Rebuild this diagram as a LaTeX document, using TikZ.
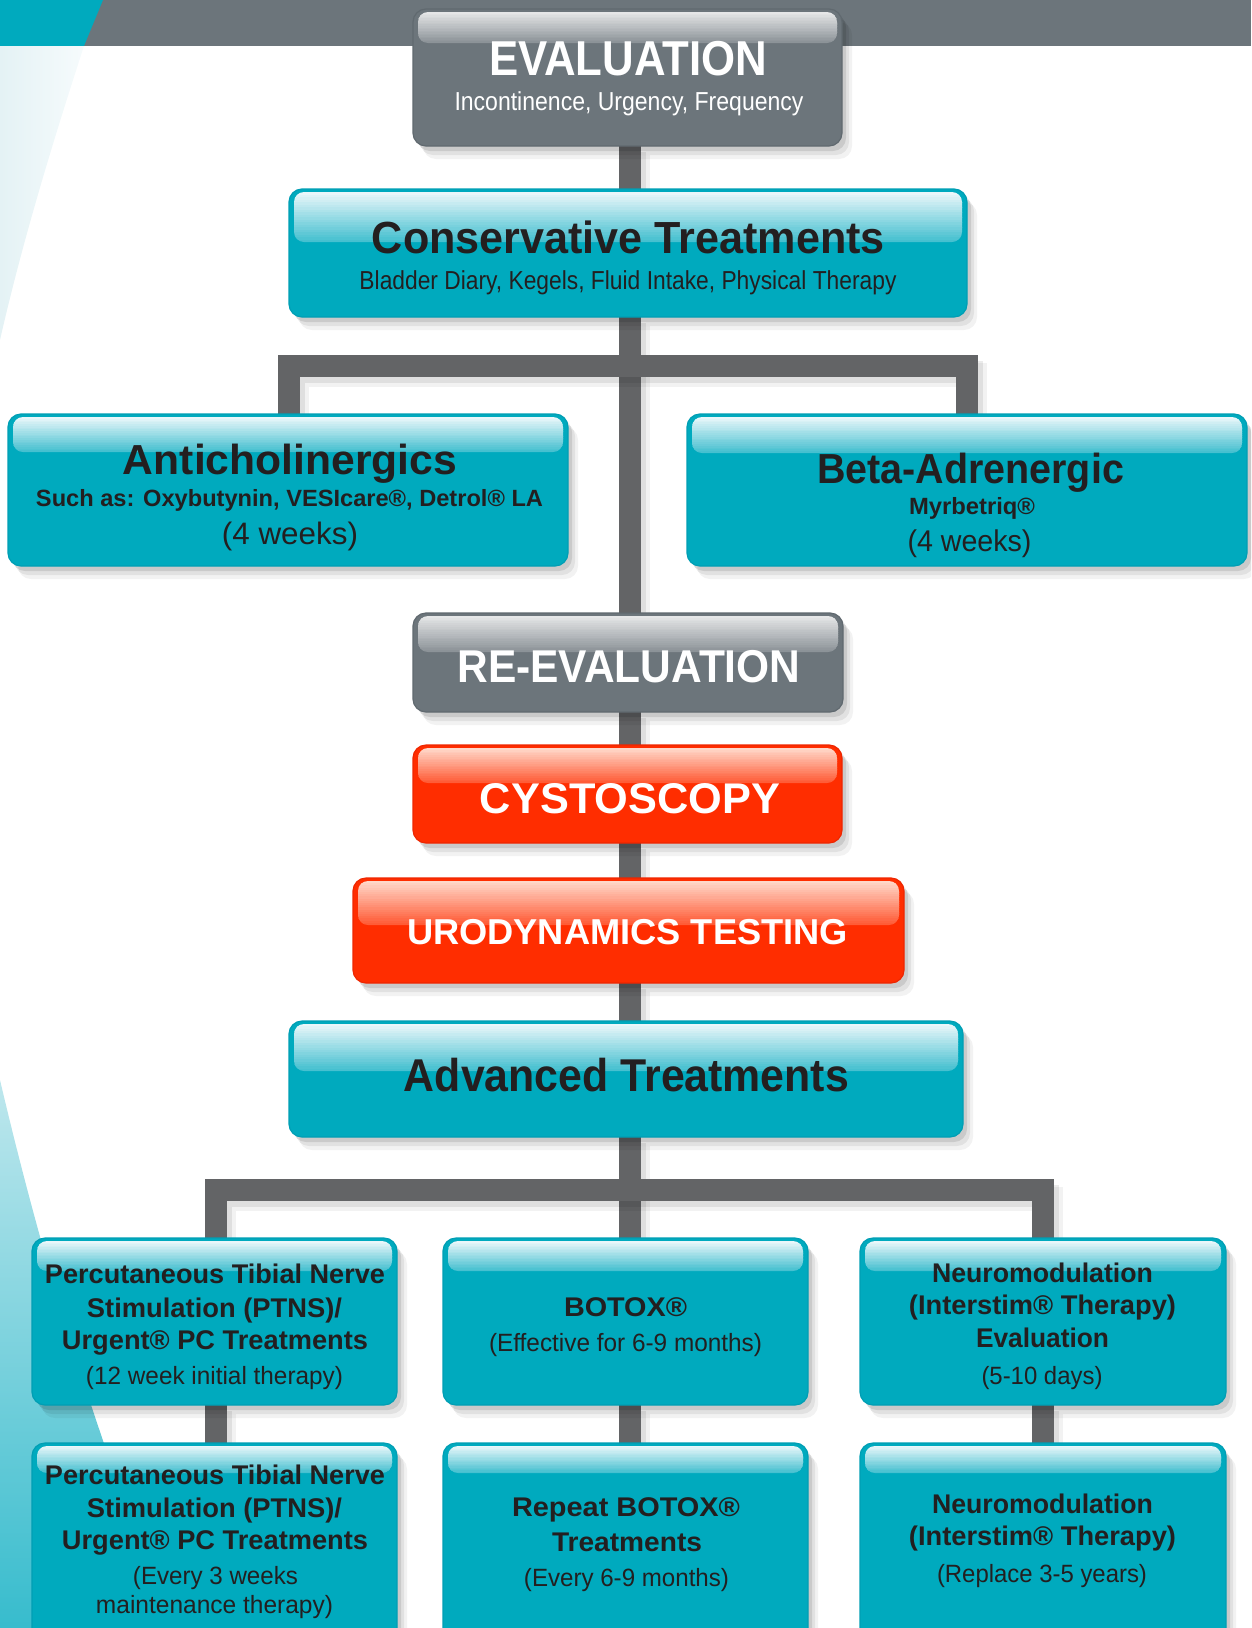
\documentclass[tikz,border=0pt]{standalone}
\usepackage{fontspec}
\setmainfont{Liberation Sans}
\usepackage{graphicx}
\usetikzlibrary{shadows,calc}
\pgfdeclarelayer{bg}
\pgfsetlayers{bg,main}

\definecolor{tealc}{RGB}{0,170,190}
\definecolor{tealb}{RGB}{0,158,180}
\definecolor{grayc}{RGB}{108,117,123}
\definecolor{grayb}{RGB}{96,105,111}
\definecolor{connc}{RGB}{99,100,102}
\definecolor{redc}{RGB}{255,45,0}
\definecolor{redb}{RGB}{238,38,0}
\definecolor{darktext}{RGB}{35,31,32}
\definecolor{tgl1}{RGB}{234,247,250}
\definecolor{tgl2}{RGB}{70,192,208}
\definecolor{ggl1}{RGB}{230,231,232}
\definecolor{ggl2}{RGB}{140,147,152}
\definecolor{rgl1}{RGB}{255,216,202}
\definecolor{rgl2}{RGB}{255,92,55}
\definecolor{palel}{RGB}{228,242,245}
\definecolor{paler}{RGB}{246,251,252}
\definecolor{lowtop}{RGB}{190,231,237}
\definecolor{lowbot}{RGB}{55,188,205}

\tikzset{
  gtop/.store in=\gtop, gbot/.store in=\gbot, glossh/.store in=\glossh,
  boxshadow/.style={
    general shadow={fill=black,opacity=.10,shadow xshift=4pt,shadow yshift=-5pt},
    general shadow={fill=black,opacity=.07,shadow xshift=7pt,shadow yshift=-9pt},
    general shadow={fill=black,opacity=.05,shadow xshift=10pt,shadow yshift=-13pt}},
  box/.style={rectangle, rounded corners=13pt, inner sep=0pt, outer sep=0pt,
    line width=1.2pt, boxshadow,
    path picture={%
      \coordinate (gl) at ([xshift=5pt,yshift=-3pt]path picture bounding box.north west);
      \coordinate (gr) at ([xshift=-5pt,yshift=-3pt]path picture bounding box.north east);
      \pgfmathsetmacro\gh{\glossh-3}%
      \clip[rounded corners=10pt] (gl) rectangle ([yshift=-\gh pt]gr);
      \foreach \i in {0,...,19}{%
        \pgfmathsetmacro\ya{\gh*\i/20}%
        \pgfmathsetmacro\yb{\gh*(\i+1)/20+0.7}%
        \pgfmathtruncatemacro\pc{100-100*\i/19}%
        \colorlet{gcur}{\gtop!\pc!\gbot}%
        \fill[gcur,sharp corners] ([xshift=-2pt,yshift=-\ya pt]gl) rectangle ([xshift=2pt,yshift=-\yb pt]gr);
      }}},
  tealbox/.style={box,fill=tealc,draw=tealb,gtop=tgl1,gbot=tgl2},
  graybox/.style={box,fill=grayc,draw=grayb,gtop=ggl1,gbot=ggl2},
  redbox/.style={box,fill=redc,draw=redb,gtop=rgl1,gbot=rgl2},
  conn/.style={draw=connc, line width=22pt, line join=miter,
    preaction={draw=black,opacity=.08,line width=22pt,line join=miter,
      transform canvas={xshift=5pt,yshift=-6pt}},
    preaction={draw=black,opacity=.05,line width=24pt,line join=miter,
      transform canvas={xshift=8pt,yshift=-9pt}}},
}

% box: name, x1, y1, x2, y2, style, gloss bottom offset
\newcommand\bx[7]{%
  \pgfmathsetmacro\bw{#4-#2}\pgfmathsetmacro\bh{#5-#3}%
  \pgfmathsetmacro\bcx{(#2+#4)/2}\pgfmathsetmacro\bcy{(#3+#5)/2}%
  \node[#6,minimum width=\bw pt,minimum height=\bh pt,glossh=#7] (#1) at (\bcx,\bcy) {};}
% text line: name, x, baseline y, size, width, colour, text
\newcommand\tl[7]{%
  \node[anchor=base,inner sep=0pt,text=#6] (#1) at (#2,#3)
    {\fontsize{#4}{#4}\selectfont\resizebox{#5pt}{\height}{#7}};}

\begin{document}
\begin{tikzpicture}[x=1pt,y=-1pt]
\useasboundingbox (0,0) rectangle (1251,1628);
\begin{pgfonlayer}{bg}
  \fill[grayc] (0,0) rectangle (1251,46);
  \fill[tealc] (0,0) -- (103,0) -- (84,46) -- (0,46) -- cycle;
  \shade[left color=palel,right color=paler] (0,46) -- (84,46)
     .. controls (60,120) and (25,230) .. (0,340) -- cycle;
  \shade[top color=lowtop,bottom color=lowbot] (0,1080)
     .. controls (40,1250) and (90,1420) .. (172,1628) -- (0,1628) -- cycle;
\end{pgfonlayer}
\clip (0,0) rectangle (1251,1628);

% boxes
\bx{eval}{413}{9}{842}{146}{graybox}{34}
\bx{cons}{289}{189}{967}{317}{tealbox}{53}
\bx{anti}{8}{414}{568}{566}{tealbox}{38}
\bx{beta}{687}{414}{1247}{566}{tealbox}{39}
\bx{reeval}{413}{613}{843}{712}{graybox}{39}
\bx{cysto}{413}{745}{842}{843}{redbox}{38}
\bx{uro}{353}{878}{904}{983}{redbox}{47}
\bx{adv}{289}{1021}{963}{1137}{tealbox}{50}
\bx{ptns1}{32}{1238}{397}{1405}{tealbox}{33}
\bx{botox1}{443}{1238}{808}{1405}{tealbox}{33}
\bx{neuro1}{860}{1238}{1226}{1405}{tealbox}{33}
\bx{ptns2}{32}{1443}{397}{1670}{tealbox}{30}
\bx{botox2}{443}{1443}{808}{1670}{tealbox}{30}
\bx{neuro2}{860}{1443}{1226}{1670}{tealbox}{30}

% texts
\tl{evalA}{628}{75}{49}{278}{white}{\bfseries EVALUATION}
\tl{evalB}{629}{110}{26}{349}{white}{Incontinence, Urgency, Frequency}
\tl{consA}{628.5}{253}{45}{513}{darktext}{\bfseries Conservative Treatments}
\tl{consB}{628}{289}{26}{537}{darktext}{Bladder Diary, Kegels, Fluid Intake, Physical Therapy}
\tl{antiA}{290}{474}{42}{334}{darktext}{\bfseries Anticholinergics}
\tl{antiB}{289.5}{506}{23.5}{507}{darktext}{\bfseries Such as: Oxybutynin, VESIcare®, Detrol® LA}
\tl{antiC}{290}{544}{31}{136}{darktext}{(4 weeks)}
\tl{betaA}{970.5}{483}{42}{307}{darktext}{\bfseries Beta-Adrenergic}
\tl{betaB}{972}{514}{23.5}{126}{darktext}{\bfseries Myrbetriq®}
\tl{betaC}{969.5}{551}{30}{124}{darktext}{(4 weeks)}
\tl{reevalA}{629}{682}{46}{343}{white}{\bfseries RE-EVALUATION}
\tl{cystoA}{630}{813}{43}{300}{white}{\bfseries CYSTOSCOPY}
\tl{uroA}{627.5}{944}{36}{441}{white}{\bfseries URODYNAMICS TESTING}
\tl{advA}{626.5}{1091}{46}{445}{darktext}{\bfseries Advanced Treatments}

\tl{ptnsA}{215}{1283}{27}{340}{darktext}{\bfseries Percutaneous Tibial Nerve}
\tl{ptnsB}{214.5}{1317}{27}{255}{darktext}{\bfseries Stimulation (PTNS)/}
\tl{ptnsC}{215}{1349}{27}{306}{darktext}{\bfseries Urgent® PC Treatments}
\tl{ptnsD}{214.5}{1384}{25}{257}{darktext}{(12 week initial therapy)}
\tl{ptnsE}{215}{1484}{27}{340}{darktext}{\bfseries Percutaneous Tibial Nerve}
\tl{ptnsF}{214.5}{1517}{27}{255}{darktext}{\bfseries Stimulation (PTNS)/}
\tl{ptnsG}{215}{1549}{27}{306}{darktext}{\bfseries Urgent® PC Treatments}
\tl{ptnsH}{215.5}{1584}{25}{165}{darktext}{(Every 3 weeks}
\tl{ptnsI}{214.5}{1613}{25}{237}{darktext}{maintenance therapy)}

\tl{botoxA}{625.5}{1316}{27}{123}{darktext}{\bfseries BOTOX®}
\tl{botoxB}{625.5}{1351}{25}{273}{darktext}{(Effective for 6-9 months)}
\tl{botoxC}{626}{1516}{27}{228}{darktext}{\bfseries Repeat BOTOX®}
\tl{botoxD}{627}{1551}{27}{150}{darktext}{\bfseries Treatments}
\tl{botoxE}{626.5}{1586}{25}{205}{darktext}{(Every 6-9 months)}

\tl{neuroA}{1042.5}{1282}{27}{221}{darktext}{\bfseries Neuromodulation}
\tl{neuroB}{1042.5}{1314}{27}{267}{darktext}{\bfseries (Interstim® Therapy)}
\tl{neuroC}{1042.5}{1347}{27}{133}{darktext}{\bfseries Evaluation}
\tl{neuroD}{1042}{1384}{25}{121}{darktext}{(5-10 days)}
\tl{neuroE}{1042.5}{1513}{27}{221}{darktext}{\bfseries Neuromodulation}
\tl{neuroF}{1042.5}{1545}{27}{267}{darktext}{\bfseries (Interstim® Therapy)}
\tl{neuroG}{1042}{1582}{25}{210}{darktext}{(Replace 3-5 years)}

% connectors
\coordinate (tr) at (630,0);
\coordinate (ubl) at (288.5,366);
\coordinate (ubr) at (967,366);
\coordinate (lbl) at (215.5,1189.5);
\coordinate (lbr) at (1042.5,1189.5);
\begin{pgfonlayer}{bg}
  \draw[conn] (eval.south -| tr) -- (cons.north -| tr);
  \draw[conn] (cons.south -| tr) -- (reeval.north -| tr);
  \draw[conn] (anti.north -| ubl) -- (ubl) -- (ubr) -- (beta.north -| ubr);
  \draw[conn] (reeval.south -| tr) -- (cysto.north -| tr);
  \draw[conn] (cysto.south -| tr) -- (uro.north -| tr);
  \draw[conn] (uro.south -| tr) -- (adv.north -| tr);
  \draw[conn] (adv.south -| tr) -- (botox1.north -| tr);
  \draw[conn] (ptns1.north -| lbl) -- (lbl) -- (lbr) -- (neuro1.north -| lbr);
  \draw[conn] (ptns1.south -| lbl) -- (ptns2.north -| lbl);
  \draw[conn] (botox1.south -| tr) -- (botox2.north -| tr);
  \draw[conn] (neuro1.south -| lbr) -- (neuro2.north -| lbr);
\end{pgfonlayer}
\end{tikzpicture}
\end{document}
